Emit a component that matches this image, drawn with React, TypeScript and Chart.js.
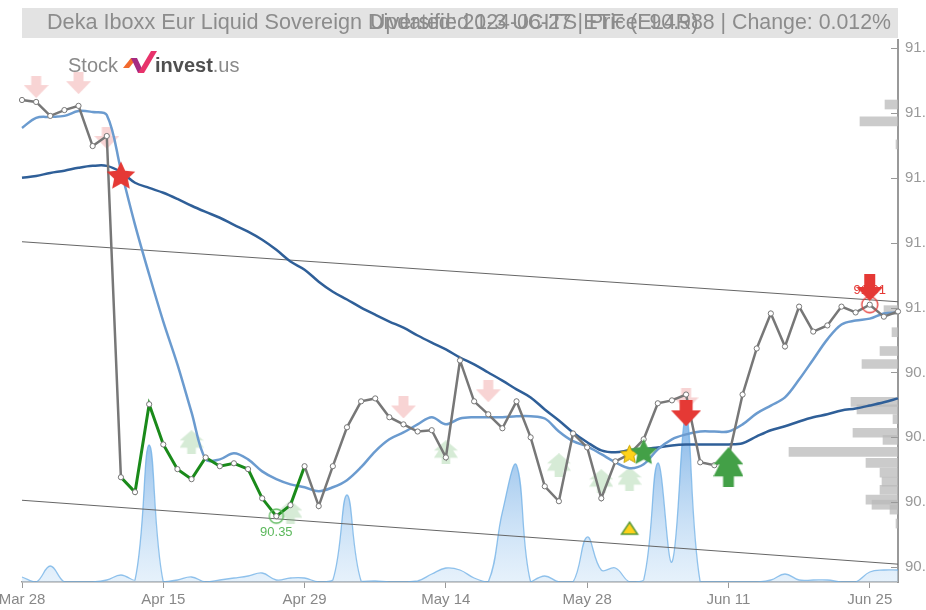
import React, { useEffect, useRef } from 'react';
import { Chart, registerables } from 'chart.js';

Chart.register(...registerables);

// ---------- data ----------
const dates = ['Mar 28','Apr 2','Apr 3','Apr 4','Apr 5','Apr 8','Apr 9','Apr 10','Apr 11','Apr 12','Apr 15','Apr 16','Apr 17','Apr 18','Apr 19','Apr 22','Apr 23','Apr 24','Apr 25','Apr 26','Apr 29','Apr 30','May 2','May 3','May 6','May 7','May 8','May 9','May 10','May 13','May 14','May 15','May 16','May 17','May 20','May 21','May 22','May 23','May 24','May 27','May 28','May 29','May 30','May 31','Jun 3','Jun 4','Jun 5','Jun 6','Jun 7','Jun 10','Jun 11','Jun 12','Jun 13','Jun 14','Jun 17','Jun 18','Jun 19','Jun 20','Jun 21','Jun 24','Jun 25','Jun 26','Jun 27'];

const price = [91.64, 91.634, 91.591, 91.609, 91.622, 91.498, 91.529, 90.477, 90.431, 90.702, 90.578, 90.502, 90.471, 90.538, 90.511, 90.52, 90.502, 90.412, 90.357, 90.391, 90.511, 90.388, 90.511, 90.631, 90.711, 90.72, 90.662, 90.64, 90.618, 90.622, 90.538, 90.837, 90.711, 90.671, 90.628, 90.711, 90.6, 90.449, 90.403, 90.612, 90.569, 90.412, 90.526, 90.548, 90.594, 90.705, 90.714, 90.732, 90.523, 90.514, 90.538, 90.732, 90.874, 90.982, 90.88, 91.003, 90.926, 90.945, 91.003, 90.985, 91.009, 90.972, 90.988];

const maShort = [91.554, 91.585, 91.588, 91.591, 91.606, 91.603, 91.594, 91.425, 91.255, 91.102, 90.957, 90.825, 90.677, 90.532, 90.532, 90.551, 90.532, 90.495, 90.471, 90.455, 90.446, 90.434, 90.446, 90.468, 90.508, 90.557, 90.594, 90.615, 90.64, 90.662, 90.64, 90.658, 90.662, 90.662, 90.662, 90.665, 90.665, 90.658, 90.618, 90.588, 90.572, 90.548, 90.523, 90.505, 90.517, 90.563, 90.594, 90.609, 90.618, 90.618, 90.618, 90.64, 90.674, 90.698, 90.723, 90.778, 90.84, 90.902, 90.948, 90.96, 90.966, 90.982, 90.985];

const maLong = [91.40, 91.406, 91.415, 91.422, 91.431, 91.437, 91.437, 91.418, 91.385, 91.369, 91.354, 91.335, 91.314, 91.295, 91.277, 91.255, 91.234, 91.209, 91.178, 91.142, 91.117, 91.08, 91.049, 91.025, 91.0, 90.978, 90.957, 90.938, 90.914, 90.892, 90.871, 90.846, 90.825, 90.80, 90.775, 90.748, 90.723, 90.686, 90.652, 90.615, 90.585, 90.56, 90.554, 90.56, 90.563, 90.569, 90.575, 90.578, 90.578, 90.578, 90.578, 90.582, 90.603, 90.622, 90.634, 90.649, 90.662, 90.671, 90.683, 90.689, 90.698, 90.708, 90.72];

const volume = [5, 0, 16, 0, 0, 0, 2, 7, 2, 137, 0, 2, 5, 0, 2, 4, 6, 9, 2, 4, 4, 0, 2, 87, 1, 1, 0, 0, 1, 8, 14, 12, 4, 0, 70, 117, 0, 6, 0, 0, 45, 12, 14, 0, 2, 119, 20, 165, 0, 0, 0, 0, 0, 2, 8, 2, 2, 2, 0, 0, 10, 12, 12];

const trendIdx = [0, 62];
const trendUpper = [91.203, 91.018];
const trendLower = [90.406, 90.209];

const profilePrice = [91.64, 91.588, 91.517, 91.006, 90.938, 90.88, 90.84, 90.723, 90.70, 90.67, 90.628, 90.606, 90.569, 90.535, 90.505, 90.477, 90.452, 90.422, 90.406, 90.391, 90.348];
const profileSize = [13, 38, 2, 14, 6, 18, 36, 47, 41, 5, 45, 15, 109, 32, 18, 16, 18, 32, 26, 8, 2];

const yTicks = [90.2, 90.4, 90.6, 90.8, 91.0, 91.2, 91.4, 91.6, 91.8];
const xTickStep = 10;

const sellWeakIdx = [1, 4, 6, 27, 33, 47];
const sellWeakVal = [91.68, 91.692, 91.523, 90.692, 90.742, 90.717];
const buyWeakIdx = [12, 19, 30, 38, 41, 43];
const buyWeakVal = [90.585, 90.369, 90.554, 90.514, 90.465, 90.471];
const sellIdx = [47, 60];
const sellVal = [90.674, 91.062];
const buyIdx = [50];
const buyVal = [90.508];
const redStarIdx = [7];
const redStarVal = [91.409];
const goldStarIdx = [43];
const goldStarVal = [90.551];
const greenStarIdx = [44];
const greenStarVal = [90.557];
const triangleIdx = [43];
const triangleVal = [90.32];
const lowIdx = [18];
const lowVal = [90.357];
const lowLabel = ['90.35'];
const highIdx = [60];
const highVal = [91.009];
const highLabel = ['91.01'];

const titleLeft = 'Deka Iboxx Eur Liquid Sovereign Diversified 1-3 UCITS ETF (EL4R)';
const titleLeftHead = 'Deka Iboxx Eur Liquid Sovereign ';
const titleRight = 'Updated: 2024-06-27 | Price: 90.988 | Change: 0.012%';

const FONT = '"Liberation Sans", Arial, sans-serif';

// ---------- marker images ----------
function mk(w: number, h: number, draw: (g: CanvasRenderingContext2D) => void) {
  const c = document.createElement('canvas');
  c.width = w; c.height = h;
  const g = c.getContext('2d')!;
  draw(g);
  return c;
}
function poly(g: CanvasRenderingContext2D, pts: number[][], fill: string) {
  g.beginPath();
  pts.forEach((p, i) => (i ? g.lineTo(p[0], p[1]) : g.moveTo(p[0], p[1])));
  g.closePath();
  g.fillStyle = fill;
  g.fill();
}
function downArrow(w: number, h: number, sw: number, sh: number, color: string) {
  return mk(w, h, g => poly(g, [[w / 2 - sw / 2, 0], [w / 2 + sw / 2, 0], [w / 2 + sw / 2, sh], [w, sh], [w / 2, h], [0, sh], [w / 2 - sw / 2, sh]], color));
}
function upTree(w: number, h: number, color: string) {
  const c = w / 2;
  return mk(w, h, g => poly(g, [
    [c, 0], [w, h * 0.43], [w * 0.8, h * 0.43], [w, h * 0.73], [c + w * 0.18, h * 0.73], [c + w * 0.18, h],
    [c - w * 0.18, h], [c - w * 0.18, h * 0.73], [0, h * 0.73], [w * 0.2, h * 0.43], [0, h * 0.43]
  ], color));
}
function starImg(r: number, fill: string, stroke?: string) {
  const s = Math.ceil(r * 2 + 4);
  return mk(s, s, g => {
    g.beginPath();
    for (let k = 0; k < 10; k++) {
      const rr = k % 2 === 0 ? r : r * 0.48;
      const a = -Math.PI / 2 + (k * Math.PI) / 5;
      const px = s / 2 + rr * Math.cos(a);
      const py = s / 2 + 1.5 + rr * Math.sin(a);
      if (k === 0) g.moveTo(px, py); else g.lineTo(px, py);
    }
    g.closePath();
    g.fillStyle = fill;
    g.fill();
    if (stroke) { g.strokeStyle = stroke; g.lineWidth = 1; g.stroke(); }
  });
}
function triImg(w: number, h: number, fill: string, stroke: string) {
  return mk(w + 4, h + 4, g => {
    g.beginPath();
    g.moveTo(w / 2 + 2, 2); g.lineTo(w + 2, h + 2); g.lineTo(2, h + 2); g.closePath();
    g.fillStyle = fill; g.fill();
    g.strokeStyle = stroke; g.lineWidth = 1.5; g.stroke();
  });
}
function ringImg(r: number, color: string) {
  const s = Math.ceil(r * 2 + 4);
  return mk(s, s, g => {
    g.beginPath(); g.arc(s / 2, s / 2, r, 0, Math.PI * 2);
    g.strokeStyle = color; g.lineWidth = 1.3; g.stroke();
  });
}

const pts = (idx: number[], val: number[]) => idx.map((i, k) => ({ x: dates[i], y: val[k] }));

// ---------- plugin ----------
function scaledText(ctx: CanvasRenderingContext2D, text: string, x: number, y: number, sx: number, align: 'left' | 'right') {
  ctx.save();
  ctx.translate(x, y);
  ctx.scale(sx, 1);
  ctx.textAlign = align;
  ctx.fillText(text, 0, 0);
  ctx.restore();
}

const overlay = {
  id: 'overlay',
  beforeDraw(chart: any) {
    const ctx = chart.ctx;
    ctx.save();
    ctx.fillStyle = '#fff';
    ctx.fillRect(0, 0, chart.width, chart.height);
    const ca = chart.chartArea;
    ctx.fillStyle = '#e3e3e3';
    ctx.fillRect(ca.left, 8, ca.right - ca.left, 30);
    ctx.font = '22px ' + FONT;
    ctx.fillStyle = '#8c8c8c';
    ctx.textBaseline = 'middle';
    const sxL = 321 / ctx.measureText(titleLeftHead).width;
    scaledText(ctx, titleLeft, 47, 23, sxL, 'left');
    const sxR = 521 / ctx.measureText(titleRight).width;
    scaledText(ctx, titleRight, 891, 23, sxR, 'right');
    // logo
    ctx.textAlign = 'left';
    ctx.textBaseline = 'alphabetic';
    ctx.font = '20px ' + FONT;
    ctx.fillStyle = '#8a8a8a';
    ctx.fillText('Stock', 68, 72);
    poly(ctx, [[123, 68], [131, 58], [137, 58], [129, 68]], '#f26a2e');
    poly(ctx, [[131, 58], [137, 58], [144, 73], [138, 73]], '#a52a82');
    poly(ctx, [[138, 73], [144, 73], [157, 51], [151, 51]], '#e8336b');
    ctx.font = 'bold 20px ' + FONT;
    ctx.fillStyle = '#505050';
    ctx.fillText('invest', 155, 72);
    const w = ctx.measureText('invest').width;
    ctx.font = '20px ' + FONT;
    ctx.fillStyle = '#8a8a8a';
    ctx.fillText('.us', 155 + w, 72);
    ctx.restore();
  },
  afterDatasetDraw(chart: any, args: any) {
    const ds = chart.data.datasets[args.index];
    if (!ds.labelTexts) return;
    const ctx = chart.ctx;
    const meta = args.meta;
    ctx.save();
    ctx.font = '13px ' + FONT;
    ctx.textAlign = 'center';
    ctx.textBaseline = 'middle';
    ctx.fillStyle = ds.labelColor;
    meta.data.forEach((el: any, i: number) => {
      ctx.fillText(ds.labelTexts[i], el.x, el.y + ds.labelOffset);
    });
    ctx.restore();
  },
  afterDraw(chart: any) {
    const ctx = chart.ctx;
    const ys = chart.scales.y;
    const ca = chart.chartArea;
    ctx.save();
    ctx.strokeStyle = '#999';
    ctx.lineWidth = 1;
    yTicks.forEach(v => {
      const py = Math.round(ys.getPixelForValue(v)) + 0.5;
      ctx.beginPath(); ctx.moveTo(ca.right - 7, py); ctx.lineTo(ca.right, py); ctx.stroke();
    });
    ctx.restore();
  }
};

export default function App() {
  const ref = useRef<HTMLCanvasElement>(null);
  useEffect(() => {
    Chart.defaults.font.family = FONT;
    const sellWeakImg = downArrow(25, 22, 10, 9, 'rgba(240,160,160,0.45)');
    const buyWeakImg = upTree(24, 24, 'rgba(120,190,120,0.3)');
    const sellImg = downArrow(30, 26, 13, 10, '#e53935');
    const sellImg2 = downArrow(27, 27, 11, 13, '#e53935');
    const buyImg = upTree(30, 40, '#43a047');
    const redStar = starImg(15, '#e53935');
    const goldStar = starImg(9.5, '#ffd21a', '#c9a400');
    const greenStar = starImg(14, '#43a047');
    const tri = triImg(16, 12, '#ffd21a', '#5a9a3a');
    const greenRing = ringImg(7, '#5cb85c');
    const redRing = ringImg(8, '#e53935');

    const markerDs = (data: any[], img: any, order: number, extra: any = {}) => ({
      type: 'line', data, showLine: false, pointStyle: img, pointRadius: 10, order,
      borderColor: 'transparent', backgroundColor: 'transparent', ...extra
    });

    const chart = new Chart(ref.current!, {
      type: 'line',
      data: {
        labels: dates,
        datasets: [
          markerDs(pts(sellIdx.slice(0, 1), sellVal.slice(0, 1)), sellImg, 0),
          markerDs(pts(sellIdx.slice(1), sellVal.slice(1)), sellImg2, 0),
          markerDs(pts(buyIdx, buyVal), buyImg, 0),
          markerDs(pts(greenStarIdx, greenStarVal), greenStar, 1),
          markerDs(pts(goldStarIdx, goldStarVal), goldStar, 1.5),
          markerDs(pts(redStarIdx, redStarVal), redStar, 1),
          markerDs(pts(triangleIdx, triangleVal), tri, 1),
          markerDs(pts(lowIdx, lowVal), greenRing, 2, { labelTexts: lowLabel, labelColor: '#5cb85c', labelOffset: 16 }),
          markerDs(pts(highIdx, highVal), redRing, 2, { labelTexts: highLabel, labelColor: '#e53935', labelOffset: -14 }),
          {
            type: 'line', data: price, order: 3,
            borderColor: '#777', borderWidth: 2.5, tension: 0,
            pointRadius: 2.6, pointBackgroundColor: '#fff', pointBorderColor: '#777', pointBorderWidth: 1,
            segment: {
              borderColor: (c: any) => (c.p0DataIndex >= 7 && c.p1DataIndex <= 20 ? '#1a8a1a' : '#777'),
              borderWidth: (c: any) => (c.p0DataIndex >= 7 && c.p1DataIndex <= 20 ? 3 : 2.5),
            },
          },
          { type: 'line', data: maShort, order: 4, borderColor: '#6b9bcf', borderWidth: 2.5, pointRadius: 0, tension: 0.35 },
          { type: 'line', data: maLong, order: 5, borderColor: '#2f5f98', borderWidth: 2.5, pointRadius: 0, tension: 0.35 },
          markerDs(pts(sellWeakIdx, sellWeakVal), sellWeakImg, 6),
          markerDs(pts(buyWeakIdx, buyWeakVal), buyWeakImg, 6),
          { type: 'line', data: pts(trendIdx, trendUpper), order: 7, borderColor: '#666', borderWidth: 1, pointRadius: 0 },
          { type: 'line', data: pts(trendIdx, trendLower), order: 7, borderColor: '#666', borderWidth: 1, pointRadius: 0 },
          {
            type: 'bar', indexAxis: 'y', xAxisID: 'xp', yAxisID: 'yp', order: 8,
            data: profilePrice.map((p, i) => ({ x: profileSize[i], y: p })),
            barThickness: 9, backgroundColor: 'rgba(185,185,185,0.75)', borderWidth: 0,
          },
          {
            type: 'line', data: volume, yAxisID: 'yv', order: 9, fill: 'start', tension: 0.4,
            borderColor: 'rgba(110,175,230,0.75)', borderWidth: 1.3, pointRadius: 0,
            backgroundColor: (c: any) => {
              const ca = c.chart.chartArea;
              if (!ca) return 'rgba(150,200,240,0.5)';
              const g = c.chart.ctx.createLinearGradient(0, ca.bottom - 170, 0, ca.bottom);
              g.addColorStop(0, 'rgba(95,160,225,0.8)');
              g.addColorStop(1, 'rgba(200,225,247,0.45)');
              return g;
            },
          },
        ] as any,
      },
      options: {
        responsive: false,
        animation: false,
        devicePixelRatio: 1,
        events: [],
        layout: { padding: { left: 22, top: 40, right: 0, bottom: 0 } },
        plugins: { legend: { display: false }, tooltip: { enabled: false }, title: { display: false } },
        scales: {
          x: {
            type: 'category',
            offset: false,
            grid: { display: true, drawOnChartArea: false, drawTicks: true, tickLength: 6, color: '#999', offset: false },
            border: { display: true, color: '#999', width: 1.5 },
            ticks: { autoSkip: false, maxRotation: 0, color: '#888', font: { size: 15 }, padding: 3 },
            afterBuildTicks: (s: any) => { s.ticks = s.ticks.filter((t: any) => t.value % xTickStep === 0); },
            afterFit: (s: any) => { s.paddingLeft = 0; s.paddingRight = 0; s.height = 28; },
          },
          y: {
            type: 'linear', position: 'right', min: 90.154, max: 91.825, offset: false,
            grid: { display: false, drawTicks: false },
            border: { display: true, color: '#999', width: 2 },
            ticks: { color: '#999', font: { size: 15 }, padding: 7, callback: (v: any) => Number(v).toFixed(1) },
            afterBuildTicks: (s: any) => { s.ticks = yTicks.map(v => ({ value: v })); },
            afterFit: (s: any) => { s.width = 28; s.paddingTop = 0; s.paddingBottom = 0; },
          },
          yp: { type: 'linear', display: false, min: 90.154, max: 91.825, offset: false, position: 'right' },
          yv: { type: 'linear', display: false, min: 0, max: 542 },
          xp: { type: 'linear', display: false, min: 0, max: 876, reverse: true },
        } as any,
      },
      plugins: [overlay as any],
    } as any);
    return () => chart.destroy();
  }, []);
  return (
    <div style={{ position: 'absolute', left: 0, top: 0, width: 926, height: 610, background: '#fff' }}>
      <canvas ref={ref} width={926} height={610} style={{ display: 'block', width: 926, height: 610 }} />
    </div>
  );
}
